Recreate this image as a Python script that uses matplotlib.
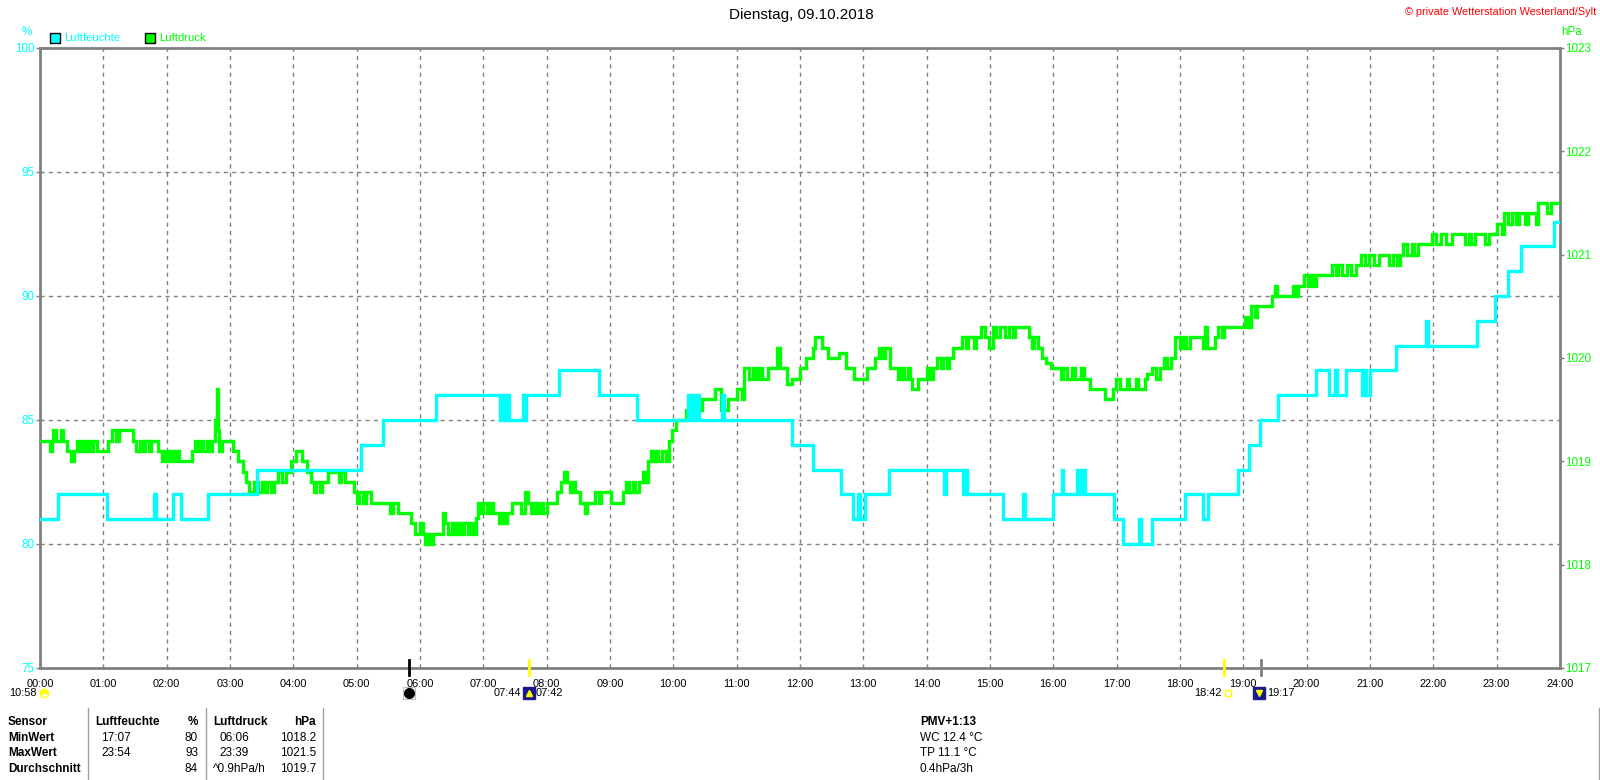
import matplotlib
matplotlib.use("Agg")
import matplotlib.pyplot as plt
from matplotlib.patches import Rectangle
from matplotlib.lines import Line2D
from matplotlib.transforms import blended_transform_factory

# humidity (%) as steps: time in hours -> value from that time on
hum_t = [0.00, 0.29, 1.06, 1.80, 1.83, 2.10, 2.22, 2.66, 3.43, 5.07, 5.42, 6.25,
         7.27, 7.31, 7.34, 7.37, 7.40, 7.62, 7.64, 7.67, 8.20, 8.82, 9.43,
         10.23, 10.27, 10.30, 10.33, 10.36, 10.41, 10.77, 10.80, 11.88, 12.20,
         12.64, 12.83, 12.91, 12.94, 13.03, 13.41, 14.28, 14.31, 14.58, 14.61,
         14.64, 15.20, 15.52, 15.55, 16.00, 16.13, 16.16, 16.38, 16.42, 16.45,
         16.50, 16.96, 17.10, 17.35, 17.38, 17.56, 18.08, 18.36, 18.44, 18.91,
         19.09, 19.27, 19.54, 20.15, 20.36, 20.44, 20.48, 20.62, 20.87, 20.91,
         20.94, 21.00, 21.41, 21.88, 21.91, 22.69, 22.97, 23.18, 23.38, 23.90, 24.00]
hum_v = [81, 82, 81, 82, 81, 82, 81, 82, 83, 84, 85, 86,
         85, 86, 85, 86, 85, 86, 85, 86, 87, 86, 85,
         86, 85, 86, 85, 86, 85, 86, 85, 84, 83,
         82, 81, 82, 81, 82, 83, 82, 83, 82, 83,
         82, 81, 82, 81, 82, 83, 82, 83, 82, 83,
         82, 81, 80, 81, 80, 81, 82, 81, 82, 83,
         84, 85, 86, 87, 86, 87, 86, 87, 86, 87,
         86, 87, 88, 89, 88, 89, 90, 91, 92, 93, 93]

# air pressure (hPa) as steps
press_t = [0.00, 0.16, 0.19, 0.21, 0.26, 0.33, 0.37, 0.43, 0.49, 0.53, 0.58, 0.61,
           0.66, 0.69, 0.74, 0.79, 0.84, 0.90, 1.08, 1.14, 1.20, 1.24, 1.47, 1.52,
           1.58, 1.62, 1.66, 1.72, 1.76, 1.86, 1.92, 1.96, 2.00, 2.06, 2.10, 2.15,
           2.20, 2.40, 2.45, 2.49, 2.54, 2.58, 2.63, 2.68, 2.72, 2.77, 2.79, 2.81,
           2.83, 2.87, 3.05, 3.12, 3.20, 3.25, 3.30, 3.38, 3.44, 3.50, 3.54, 3.58,
           3.64, 3.70, 3.76, 3.82, 3.88, 3.96, 4.04, 4.13, 4.22, 4.28, 4.32, 4.36,
           4.42, 4.46, 4.55, 4.72, 4.76, 4.82, 4.96, 5.00, 5.04, 5.10, 5.14, 5.22,
           5.52, 5.58, 5.65, 5.86, 5.92, 6.00, 6.04, 6.08, 6.12, 6.16, 6.20, 6.36,
           6.40, 6.44, 6.50, 6.55, 6.60, 6.65, 6.70, 6.75, 6.80, 6.85, 6.88, 6.92,
           6.96, 7.00, 7.05, 7.10, 7.16, 7.24, 7.28, 7.32, 7.37, 7.46, 7.60, 7.66,
           7.70, 7.76, 7.80, 7.85, 7.90, 7.94, 8.00, 8.16, 8.22, 8.27, 8.32, 8.37,
           8.41, 8.45, 8.52, 8.60, 8.64, 8.76, 8.82, 8.86, 9.02, 9.20, 9.26, 9.30,
           9.36, 9.40, 9.46, 9.52, 9.56, 9.60, 9.64, 9.68, 9.72, 9.76, 9.82, 9.88,
           9.93, 9.98, 10.04, 10.20, 10.46, 10.65, 10.76, 10.86, 11.00, 11.08, 11.12, 11.20,
           11.26, 11.30, 11.36, 11.40, 11.50, 11.64, 11.68, 11.80, 11.88, 12.00, 12.10, 12.20,
           12.23, 12.34, 12.44, 12.62, 12.72, 12.86, 13.06, 13.18, 13.24, 13.30, 13.34, 13.42,
           13.54, 13.60, 13.64, 13.70, 13.74, 13.77, 13.87, 14.00, 14.05, 14.10, 14.16, 14.22,
           14.26, 14.32, 14.36, 14.42, 14.56, 14.62, 14.66, 14.74, 14.78, 14.86, 14.92, 14.98,
           15.04, 15.10, 15.16, 15.24, 15.30, 15.36, 15.40, 15.62, 15.66, 15.70, 15.76, 15.82,
           15.88, 15.96, 16.12, 16.16, 16.22, 16.30, 16.34, 16.44, 16.48, 16.58, 16.82, 16.94,
           16.99, 17.06, 17.16, 17.20, 17.30, 17.34, 17.44, 17.48, 17.56, 17.62, 17.68, 17.74,
           17.80, 17.86, 17.92, 18.00, 18.05, 18.10, 18.16, 18.36, 18.40, 18.43, 18.56, 18.60,
           18.66, 18.70, 19.02, 19.08, 19.12, 19.18, 19.22, 19.45, 19.50, 19.53, 19.78, 19.82,
           19.86, 19.96, 20.02, 20.06, 20.10, 20.14, 20.40, 20.46, 20.50, 20.56, 20.64, 20.70,
           20.78, 20.86, 20.92, 20.98, 21.06, 21.14, 21.30, 21.36, 21.42, 21.48, 21.52, 21.58,
           21.66, 21.70, 21.76, 21.98, 22.04, 22.12, 22.20, 22.30, 22.50, 22.56, 22.60, 22.66,
           22.82, 22.88, 23.00, 23.08, 23.12, 23.18, 23.24, 23.30, 23.36, 23.44, 23.50, 23.62,
           23.65, 23.80, 23.86, 24.00]
press_v = [1019.2, 1019.1, 1019.2, 1019.3, 1019.2, 1019.3, 1019.2, 1019.1, 1019.0, 1019.1, 1019.2, 1019.1,
           1019.2, 1019.1, 1019.2, 1019.1, 1019.2, 1019.1, 1019.2, 1019.3, 1019.2, 1019.3, 1019.2, 1019.1,
           1019.2, 1019.1, 1019.2, 1019.1, 1019.2, 1019.1, 1019.0, 1019.1, 1019.0, 1019.1, 1019.0, 1019.1,
           1019.0, 1019.1, 1019.2, 1019.1, 1019.2, 1019.1, 1019.2, 1019.1, 1019.2, 1019.4, 1019.7, 1019.3,
           1019.1, 1019.2, 1019.1, 1019.0, 1018.9, 1018.8, 1018.7, 1018.8, 1018.7, 1018.8, 1018.7, 1018.8,
           1018.7, 1018.8, 1018.9, 1018.8, 1018.9, 1019.0, 1019.1, 1019.0, 1018.9, 1018.8, 1018.7, 1018.8,
           1018.7, 1018.8, 1018.9, 1018.8, 1018.9, 1018.8, 1018.7, 1018.6, 1018.7, 1018.6, 1018.7, 1018.6,
           1018.5, 1018.6, 1018.5, 1018.4, 1018.3, 1018.4, 1018.3, 1018.2, 1018.3, 1018.2, 1018.3, 1018.5,
           1018.4, 1018.3, 1018.4, 1018.3, 1018.4, 1018.3, 1018.4, 1018.3, 1018.4, 1018.3, 1018.45, 1018.6,
           1018.5, 1018.6, 1018.5, 1018.6, 1018.5, 1018.4, 1018.5, 1018.4, 1018.5, 1018.6, 1018.5, 1018.7,
           1018.6, 1018.5, 1018.6, 1018.5, 1018.6, 1018.5, 1018.6, 1018.7, 1018.8, 1018.9, 1018.8, 1018.7,
           1018.8, 1018.7, 1018.6, 1018.5, 1018.6, 1018.7, 1018.6, 1018.7, 1018.6, 1018.7, 1018.8, 1018.7,
           1018.8, 1018.7, 1018.8, 1018.9, 1018.8, 1019.0, 1019.1, 1019.0, 1019.1, 1019.0, 1019.1, 1019.0,
           1019.2, 1019.3, 1019.4, 1019.5, 1019.6, 1019.7, 1019.5, 1019.6, 1019.7, 1019.6, 1019.9, 1019.8,
           1019.9, 1019.8, 1019.9, 1019.8, 1019.9, 1020.1, 1019.9, 1019.75, 1019.8, 1019.9, 1020.0, 1020.1,
           1020.2, 1020.1, 1020.0, 1020.05, 1019.9, 1019.8, 1019.9, 1020.0, 1020.1, 1020.0, 1020.1, 1019.9,
           1019.8, 1019.9, 1019.8, 1019.9, 1019.8, 1019.7, 1019.8, 1019.9, 1019.8, 1019.9, 1020.0, 1019.9,
           1020.0, 1019.9, 1020.0, 1020.1, 1020.2, 1020.1, 1020.2, 1020.1, 1020.2, 1020.3, 1020.2, 1020.1,
           1020.3, 1020.2, 1020.3, 1020.2, 1020.3, 1020.2, 1020.3, 1020.2, 1020.1, 1020.2, 1020.1, 1020.0,
           1019.95, 1019.9, 1019.8, 1019.9, 1019.8, 1019.9, 1019.8, 1019.9, 1019.8, 1019.7, 1019.6, 1019.7,
           1019.8, 1019.7, 1019.8, 1019.7, 1019.8, 1019.7, 1019.8, 1019.85, 1019.9, 1019.8, 1019.9, 1020.0,
           1019.9, 1020.0, 1020.2, 1020.1, 1020.2, 1020.1, 1020.2, 1020.1, 1020.3, 1020.1, 1020.2, 1020.3,
           1020.2, 1020.3, 1020.4, 1020.3, 1020.5, 1020.4, 1020.5, 1020.6, 1020.7, 1020.6, 1020.7, 1020.6,
           1020.7, 1020.8, 1020.7, 1020.8, 1020.7, 1020.8, 1020.9, 1020.8, 1020.9, 1020.8, 1020.9, 1020.8,
           1020.9, 1021.0, 1020.9, 1021.0, 1020.9, 1021.0, 1020.9, 1021.0, 1020.9, 1021.0, 1021.1, 1021.0,
           1021.1, 1021.0, 1021.1, 1021.2, 1021.1, 1021.2, 1021.1, 1021.2, 1021.1, 1021.2, 1021.1, 1021.2,
           1021.1, 1021.2, 1021.3, 1021.2, 1021.4, 1021.3, 1021.4, 1021.3, 1021.4, 1021.3, 1021.4, 1021.3,
           1021.5, 1021.4, 1021.5, 1021.5]

hours = list(range(25))
hour_labels = ["%02d:00" % h for h in hours]
hum_ticks = [75, 80, 85, 90, 95, 100]
press_ticks = [1017, 1018, 1019, 1020, 1021, 1022, 1023]

# sun / moon events (hours)
moon_time = 5.82
sunrise_time = 7.72
sunset_time = 18.70
dusk_time = 19.28

table_rows = [["MinWert", "17:07", "80", "06:06", "1018.2"],
              ["MaxWert", "23:54", "93", "23:39", "1021.5"],
              ["Durchschnitt", "", "84", "^0.9hPa/h", "1019.7"]]
pmv_lines = ["WC 12.4 °C", "TP 11.1 °C", "0.4hPa/3h"]

CYAN = "#00FFFF"
GREEN = "#00FF00"
GRAY = "#808080"

plt.rcParams["font.family"] = ["Liberation Sans", "DejaVu Sans"]

W, H = 1600, 780
fig = plt.figure(figsize=(16, 7.8), dpi=100)


def fx(px):
    return px / W


def fy(py):
    return 1 - py / H


ax = fig.add_axes([fx(40), fy(668), fx(1560) - fx(40), fy(48) - fy(668)])
ax_p = ax.twinx()
ax_h = ax.twinx()
ax.set_zorder(1)
ax_p.set_zorder(2)
ax_h.set_zorder(3)
ax_p.patch.set_visible(False)
ax_h.patch.set_visible(False)

ax.set_xlim(0, 24)
ax.set_ylim(75, 100)
ax_p.set_ylim(1017, 1023)
ax_h.set_ylim(75, 100)

ax.set_xticks(hours)
ax.set_xticklabels(hour_labels, fontsize=7.9)
ax.set_yticks(hum_ticks)
ax.set_yticklabels([str(v) for v in hum_ticks], fontsize=8.4, color=CYAN)
ax.tick_params(axis="x", length=0, pad=8)
ax.tick_params(axis="y", length=3, color=GRAY, width=1, pad=1)
ax.grid(True, color=GRAY, linestyle=(0, (3, 3)), linewidth=1)
for s in ax.spines.values():
    s.set_color(GRAY)
    s.set_linewidth(2)

ax_p.set_yticks(press_ticks)
ax_p.set_yticklabels([str(v) for v in press_ticks], fontsize=8.4, color=GREEN)
ax_p.tick_params(axis="y", length=3, color=GRAY, width=1, pad=1)
for s in ax_p.spines.values():
    s.set_visible(False)

ax_h.set_yticks([])
for s in ax_h.spines.values():
    s.set_visible(False)

ax_p.plot(press_t, press_v, color=GREEN, linewidth=2.4, drawstyle="steps-post",
          solid_joinstyle="miter")
ax_h.plot(hum_t, hum_v, color=CYAN, linewidth=2.4, drawstyle="steps-post",
          solid_joinstyle="miter")

# event markers on the time axis
trans = blended_transform_factory(ax.transData, ax.transAxes)
for t, c in [(moon_time, "black"), (sunrise_time, "#FFFF00"),
             (sunset_time, "#FFFF00"), (dusk_time, GRAY)]:
    ax.add_line(Line2D([t, t], [-0.011, 0.013], color=c, linewidth=2,
                       transform=trans, clip_on=False, zorder=5))

yi = -0.040
fs = 7.9
ax.plot([0.07], [yi], marker="o", fillstyle="top", markersize=6, color="#FFFF00",
        markeredgecolor="#FFFF00", transform=trans, clip_on=False)
ax.text(-0.05, yi, "10:58", transform=trans, fontsize=fs, ha="right", va="center")
ax.plot([moon_time], [yi], marker="s", markersize=9, markerfacecolor="none",
        markeredgecolor="#C0C0C0", markeredgewidth=0.8, linestyle="none",
        transform=trans, clip_on=False)
ax.plot([moon_time], [yi], marker="o", markersize=7, color="black",
        transform=trans, clip_on=False)
ax.plot([sunrise_time], [yi], marker="s", markersize=8, color="#1A1A8C",
        transform=trans, clip_on=False)
ax.plot([sunrise_time], [yi], marker="^", markersize=4, color="#FFFF00",
        transform=trans, clip_on=False)
ax.text(sunrise_time - 0.12, yi, "07:44", transform=trans, fontsize=fs, ha="right", va="center")
ax.text(sunrise_time + 0.1, yi, "07:42", transform=trans, fontsize=fs, ha="left", va="center")
ax.plot([sunset_time + 0.05], [yi], marker="s", markersize=4, markerfacecolor="none",
        markeredgecolor="#FFFF00", transform=trans, clip_on=False)
ax.text(sunset_time - 0.04, yi, "18:42", transform=trans, fontsize=fs, ha="right", va="center")
ax.plot([dusk_time - 0.03], [yi], marker="s", markersize=8, color="#1A1A8C",
        transform=trans, clip_on=False)
ax.plot([dusk_time - 0.03], [yi], marker="v", markersize=4, color="#FFFF00",
        transform=trans, clip_on=False)
ax.text(dusk_time + 0.09, yi, "19:17", transform=trans, fontsize=fs, ha="left", va="center")

# header texts
fig.text(fx(801), fy(15), "Dienstag, 09.10.2018", fontsize=11, ha="center", va="center")
fig.text(fx(1596), fy(12), "© private Wetterstation Westerland/Sylt", fontsize=7.8,
         color="red", ha="right", va="center")
fig.text(fx(27), fy(32), "%", fontsize=8.4, color=CYAN, ha="center", va="center")
fig.text(fx(1561), fy(32), "hPa", fontsize=8.4, color=GREEN, ha="left", va="center")

# legend
for x0, col, label in [(50, CYAN, "Luftfeuchte"), (145, GREEN, "Luftdruck")]:
    fig.patches.append(Rectangle((fx(x0), fy(43)), fx(10), fy(0) - fy(10), facecolor=col,
                                 edgecolor="black", linewidth=1, transform=fig.transFigure))
    fig.text(fx(x0 + 14), fy(38), label, fontsize=8.1, color=col, ha="left", va="center")

# statistics table
tfs = 8.5
row_y = [738, 753, 769]
fig.text(fx(8), fy(722), "Sensor", fontsize=tfs, weight="bold", va="center")
fig.text(fx(95), fy(722), "Luftfeuchte", fontsize=tfs, weight="bold", va="center")
fig.text(fx(198), fy(722), "%", fontsize=tfs, weight="bold", va="center", ha="right")
fig.text(fx(213), fy(722), "Luftdruck", fontsize=tfs, weight="bold", va="center")
fig.text(fx(316), fy(722), "hPa", fontsize=tfs, weight="bold", va="center", ha="right")
for y, row in zip(row_y, table_rows):
    fig.text(fx(8), fy(y), row[0], fontsize=tfs, weight="bold", va="center")
    fig.text(fx(101), fy(y), row[1], fontsize=tfs, va="center")
    fig.text(fx(198), fy(y), row[2], fontsize=tfs, va="center", ha="right")
    fig.text(fx(213 if row[3].startswith("^") else 219), fy(y), row[3], fontsize=tfs, va="center")
    fig.text(fx(316), fy(y), row[4], fontsize=tfs, va="center", ha="right")
for xl in [88, 206, 323, 1599]:
    fig.add_artist(Line2D([fx(xl), fx(xl)], [fy(708), fy(780)], color="#A0A0A0",
                          linewidth=1, transform=fig.transFigure))

fig.text(fx(920), fy(722), "PMV+1:13", fontsize=tfs, weight="bold", va="center")
for y, line in zip(row_y, pmv_lines):
    fig.text(fx(920), fy(y), line, fontsize=tfs, va="center")

fig.savefig("out.png", dpi=100, facecolor="white")
